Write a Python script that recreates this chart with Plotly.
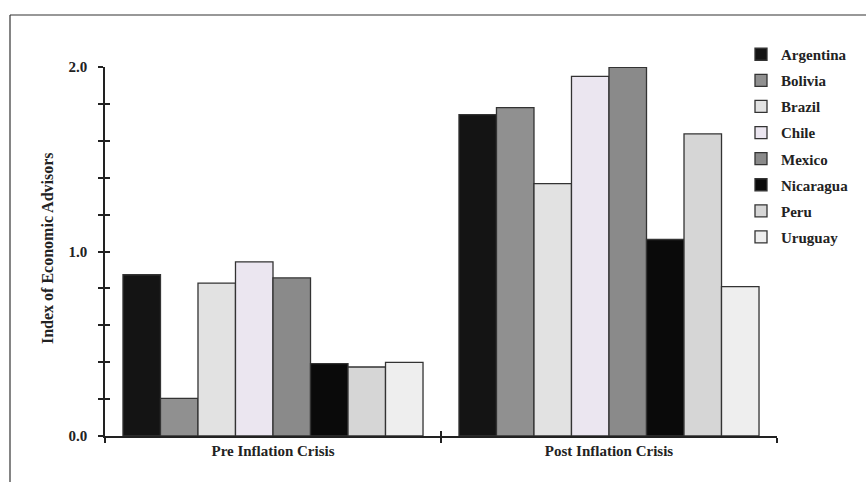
import plotly.graph_objects as go

categories = ["Pre Inflation Crisis", "Post Inflation Crisis"]
countries = ["Argentina", "Bolivia", "Brazil", "Chile", "Mexico", "Nicaragua", "Peru", "Uruguay"]
pre_values = [0.874, 0.204, 0.829, 0.944, 0.857, 0.392, 0.374, 0.399]
post_values = [1.742, 1.780, 1.368, 1.949, 1.998, 1.065, 1.637, 0.810]
colors = ["#141414", "#909090", "#e2e2e2", "#ebe6f0", "#8a8a8a", "#0a0a0a", "#d6d6d6", "#eeeeee"]
y_ticks = [0, 1, 2]
y_ticklabels = ["0.0", "1.0", "2.0"]

W, H = 866, 482
L, R, T, B = 105, 89, 67, 46
pw, ph = W - L - R, H - T - B

def px_x(p):
    return (p - L) / pw

def px_y(p):
    return (H - B - p) / ph

FONT = "Liberation Serif"
FS = 15

fig = go.Figure()
for i, c in enumerate(countries):
    fig.add_trace(go.Bar(
        name=c, x=categories, y=[pre_values[i], post_values[i]],
        marker=dict(color=colors[i], line=dict(color="#333333", width=1.3)),
        legendgroup=c,
    ))

axis_common = dict(showgrid=False, zeroline=False)
fig.update_layout(
    width=W, height=H,
    margin=dict(l=L, r=R, t=T, b=B, autoexpand=False),
    paper_bgcolor="white", plot_bgcolor="white",
    font=dict(family=FONT, size=FS, color="#222222", weight="bold"),
    barmode="group", bargap=0.107, bargroupgap=0,
    showlegend=True,
    legend=dict(x=px_x(741), y=px_y(38), xanchor="left", yanchor="top",
                traceorder="grouped", tracegroupgap=3.6,
                font=dict(family=FONT, size=FS, color="#222222", weight="bold"),
                bgcolor="rgba(0,0,0,0)"),
    xaxis=dict(type="category", showline=True, linecolor="#222222", linewidth=1.5,
               ticks="outside", ticklen=5, tickwidth=1.5, tickcolor="#222222",
               tickson="boundaries", **axis_common),
    xaxis2=dict(overlaying="x", type="linear", range=[-0.5, 1.5], tickvals=[0.5, 1.5],
                ticks="inside", ticklen=5, tickwidth=1.5, tickcolor="#222222",
                showticklabels=False, showline=False, side="bottom", **axis_common),
    yaxis=dict(range=[0, 2], tickvals=y_ticks, ticktext=y_ticklabels, showline=True,
               linecolor="#222222", linewidth=1.5, ticks="outside", ticklen=5,
               tickwidth=1.5, tickcolor="#222222", ticklabelstandoff=8,
               minor=dict(dtick=0.2, ticks="outside", ticklen=5, tickwidth=1.5,
                          tickcolor="#222222", showgrid=False),
               **axis_common),
    yaxis2=dict(overlaying="y", range=[0, 2], tickvals=y_ticks, ticks="inside",
                ticklen=5, tickwidth=1.5, tickcolor="#222222", showticklabels=False,
                minor=dict(dtick=0.2, ticks="inside", ticklen=5, tickwidth=1.5,
                           tickcolor="#222222", showgrid=False),
                showline=False, side="left", **axis_common),
)

# invisible trace so the overlay axes are drawn
fig.add_trace(go.Scatter(x=[0.5], y=[0], xaxis="x2", yaxis="y2", mode="markers",
                         marker=dict(opacity=0), showlegend=False, hoverinfo="skip"))

fig.add_annotation(text="Index of Economic Advisors", textangle=-90,
                   xref="paper", yref="paper", x=px_x(47), y=px_y(248),
                   xanchor="center", yanchor="middle",
                   showarrow=False, font=dict(family=FONT, size=16, color="#222222", weight="bold"))

# outer frame (left and top edges)
fig.add_shape(type="line", xref="paper", yref="paper",
              x0=px_x(10), y0=px_y(15), x1=px_x(10), y1=px_y(482),
              line=dict(color="#333333", width=1.2))
fig.add_shape(type="line", xref="paper", yref="paper",
              x0=px_x(10), y0=px_y(15), x1=px_x(866), y1=px_y(15),
              line=dict(color="#333333", width=1.2))

fig.write_html("out.html", config={"displayModeBar": False},
               post_script="document.body.style.margin='0';")
